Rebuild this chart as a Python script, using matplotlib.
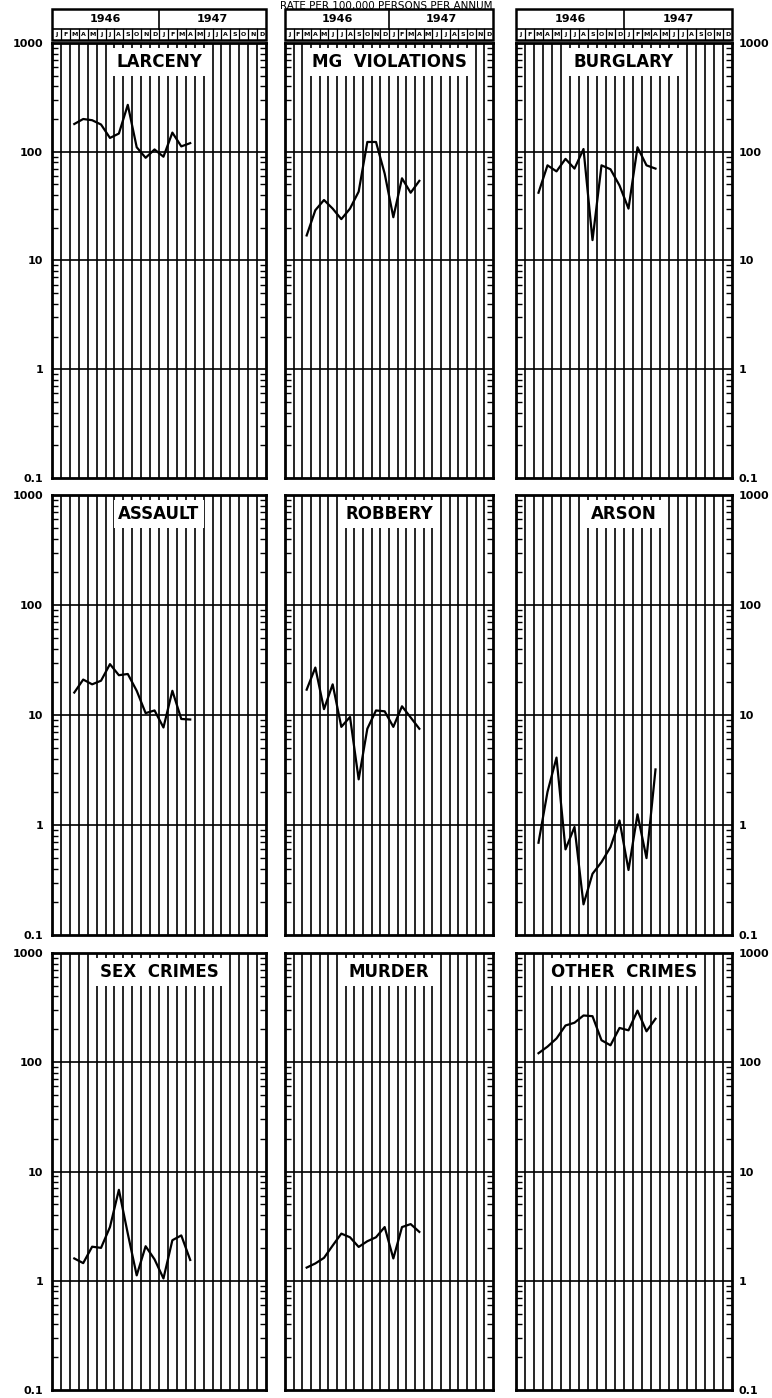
import numpy as np
import matplotlib.pyplot as plt
from matplotlib.patches import Rectangle
from matplotlib.ticker import LogLocator, FixedFormatter, FixedLocator, NullFormatter

# monthly rates per 100,000 persons per annum, Mar 1946 - Apr 1947
months = ['1946-03', '1946-04', '1946-05', '1946-06', '1946-07', '1946-08',
          '1946-09', '1946-10', '1946-11', '1946-12', '1947-01', '1947-02',
          '1947-03', '1947-04']
larceny = [180, 200, 195, 178, 134, 147, 270, 110, 88, 105, 90, 150, 112, 120]
mg_violations = [17, 29, 36, 30, 24, 30, 43, 123, 123, 63, 25, 57, 42, 54]
burglary = [42, 75, 66, 86, 70, 106, 15.4, 75, 69, 49, 30, 110, 75, 70]
assault = [16, 21, 19, 20.5, 29, 23, 23.6, 16.6, 10.4, 11, 7.7, 16.6, 9.2, 9.1]
robbery = [17, 27, 11.3, 19, 7.8, 9.6, 2.6, 7.5, 11, 10.8, 7.8, 12, 9.5, 7.5]
arson = [0.69, 2.0, 4.1, 0.6, 0.96, 0.19, 0.36, 0.46, 0.63, 1.1, 0.39, 1.25, 0.5, 3.2]
sex_crimes = [1.6, 1.45, 2.05, 2.0, 3.1, 6.8, 2.7, 1.12, 2.07, 1.57, 1.05, 2.35, 2.6, 1.55]
murder = [1.32, 1.44, 1.62, 2.1, 2.7, 2.5, 2.04, 2.3, 2.5, 3.1, 1.6, 3.1, 3.3, 2.8]
other_crimes = [121, 139, 165, 217, 230, 268, 264, 159, 143, 206, 196, 297, 192, 250]

titles = ['LARCENY', 'MG  VIOLATIONS', 'BURGLARY',
          'ASSAULT', 'ROBBERY', 'ARSON',
          'SEX  CRIMES', 'MURDER', 'OTHER  CRIMES']
series = [larceny, mg_violations, burglary,
          assault, robbery, arson,
          sex_crimes, murder, other_crimes]

years = ['1946', '1947']
month_letters = ['J', 'F', 'M', 'A', 'M', 'J', 'J', 'A', 'S', 'O', 'N', 'D']
y_ticks = [0.1, 1, 10, 100, 1000]
y_labels = ['0.1', '1', '10', '100', '1000']

# x position: month index from Jan 1946, centred in its column
xs = np.array([(int(m[:4]) - 1946) * 12 + int(m[5:]) - 1 for m in months]) + 0.5

W, H = 772, 1398
cols = [(52, 266), (285, 493), (516, 732)]
rows = [(43, 478), (495, 935), (953, 1390)]

fig = plt.figure(figsize=(W / 100, H / 100), dpi=100)
fig.text(0.5, 1 - 0.5 / H, 'RATE PER 100,000 PERSONS PER ANNUM',
         ha='center', va='top', fontsize=7.5)

for r, (y0, y1) in enumerate(rows):
    for c, (x0, x1) in enumerate(cols):
        k = r * 3 + c
        ax = fig.add_axes([x0 / W, 1 - y1 / H, (x1 - x0) / W, (y1 - y0) / H])
        ax.set_yscale('log')
        ax.set_xlim(0, 24)
        ax.set_ylim(0.1, 1000)
        for x in range(1, 24):
            ax.axvline(x, color='k', lw=1.2, zorder=1)
        for y in [1, 10, 100]:
            ax.axhline(y, color='k', lw=1.2, zorder=1)
        for s in ax.spines.values():
            s.set_linewidth(2)
        ax.set_xticks([])
        ax.yaxis.set_major_locator(FixedLocator(y_ticks))
        ax.yaxis.set_major_formatter(FixedFormatter(y_labels))
        ax.yaxis.set_minor_locator(LogLocator(base=10, subs=range(2, 10)))
        ax.yaxis.set_minor_formatter(NullFormatter())
        ax.tick_params(axis='y', which='minor', direction='in', length=4,
                       width=1, left=True, right=True)
        ax.tick_params(axis='y', which='major', length=0, labelsize=8,
                       left=c == 0, labelleft=c == 0,
                       right=c == 2, labelright=c == 2,
                       pad=6.5 if c == 0 else 4.5)
        for lab in ax.get_yticklabels():
            lab.set_fontweight('bold')

        ax.text(0.5, 1 - 19 / (y1 - y0), titles[k], transform=ax.transAxes,
                ha='center', va='center', fontsize=12, fontweight='bold',
                bbox=dict(facecolor='white', edgecolor='none', pad=3.5),
                zorder=3)
        ax.plot(xs, series[k], color='k', lw=1.6, zorder=4)

        if r == 0:
            hx = fig.add_axes([x0 / W, 1 - 40 / H, (x1 - x0) / W, 31 / H])
            hx.set_xlim(0, 24)
            hx.set_ylim(0, 1)
            hx.axis('off')
            split = 11 / 31
            hx.add_patch(Rectangle((0, 0), 24, 1, fill=False, lw=1.8,
                                   edgecolor='k', clip_on=False))
            hx.plot([0, 24], [split, split], color='k', lw=1.2)
            hx.plot([12, 12], [split, 1], color='k', lw=1.2)
            for x in range(1, 24):
                hx.plot([x, x], [0, split], color='k', lw=0.9)
            for i, yr in enumerate(years):
                hx.text(6 + 12 * i, (1 + split) / 2, yr, ha='center',
                        va='center', fontsize=8, fontweight='bold')
            for i in range(24):
                hx.text(i + 0.5, split / 2, month_letters[i % 12],
                        ha='center', va='center', fontsize=4.5,
                        fontweight='bold')

fig.savefig('out.png', dpi=100)
